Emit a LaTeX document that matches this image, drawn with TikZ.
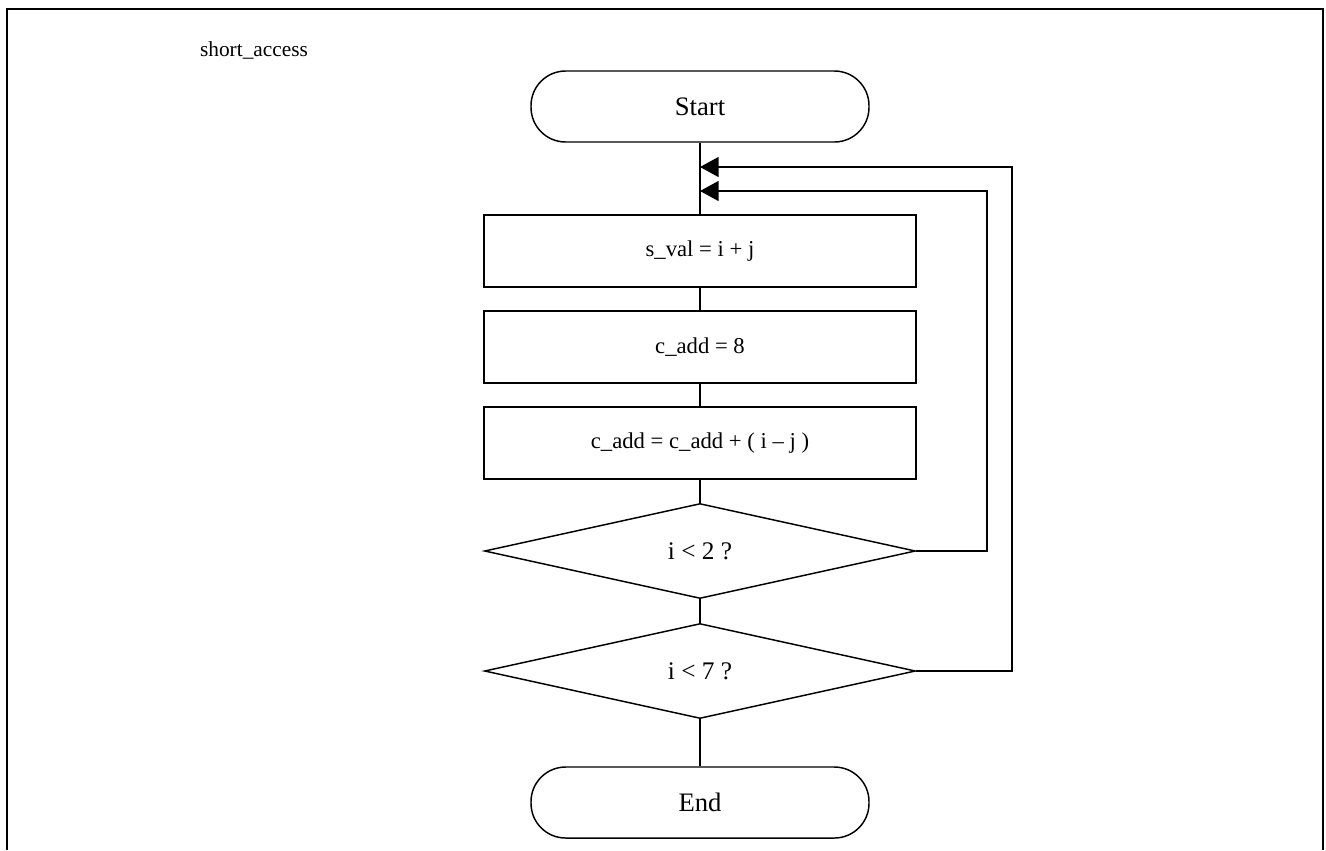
\documentclass[tikz,border=0pt]{standalone}
\usepackage{fontspec}
\setmainfont{Liberation Serif}
\usetikzlibrary{shapes.geometric,arrows.meta}
\begin{document}
\begin{tikzpicture}[x=0.75pt,y=-0.75pt,
  line/.style={line width=1.1pt,draw=black},
  term/.style={line, rectangle, rounded corners=26pt, minimum width=253.5pt, minimum height=53.25pt, inner sep=0pt, font=\fontsize{20}{24}\selectfont},
  procbox/.style={line, rectangle, minimum width=324pt, minimum height=54pt, inner sep=0pt, font=\fontsize{17}{20}\selectfont},
  decision/.style={line, diamond, minimum width=323.25pt, minimum height=71.25pt, inner sep=0pt, font=\fontsize{19}{22}\selectfont},
  back/.style={line, -{Triangle[length=14pt,width=15pt]}}
]
\useasboundingbox (0,0) rectangle (1326,850);
\draw[line width=1.9pt] (7,850) -- (7,9) -- (1323,9) -- (1323,850);
\node[font=\fontsize{16}{19}\selectfont] (title) at (254,50) {short\_access};
\node[term] (start) at (700,106.5) {Start};
\node[procbox] (b1) at (700,251) {s\_val = i + j};
\node[procbox] (b2) at (700,347) {c\_add = 8};
\node[procbox] (b3) at (700,443) {c\_add = c\_add + ( i – j )};
\node[decision] (d1) at (700,551) {i < 2 ?};
\node[decision] (d2) at (700,671) {i < 7 ?};
\node[term] (end) at (700,802.5) {End};
\coordinate (m1) at (700,167);
\coordinate (m2) at (700,191);
\coordinate (c1) at (987,191);
\coordinate (c1b) at (987,551);
\coordinate (c2) at (1012,167);
\coordinate (c2b) at (1012,671);
\draw[line] (start.south) -- (b1.north);
\draw[line] (b1.south) -- (b2.north);
\draw[line] (b2.south) -- (b3.north);
\draw[line] (b3.south) -- (d1.north);
\draw[line] (d1.south) -- (d2.north);
\draw[line] (d2.south) -- (end.north);
\draw[back] (d1.east) -- (c1b) -- (c1) -- (m2);
\draw[back] (d2.east) -- (c2b) -- (c2) -- (m1);
\end{tikzpicture}
\end{document}
